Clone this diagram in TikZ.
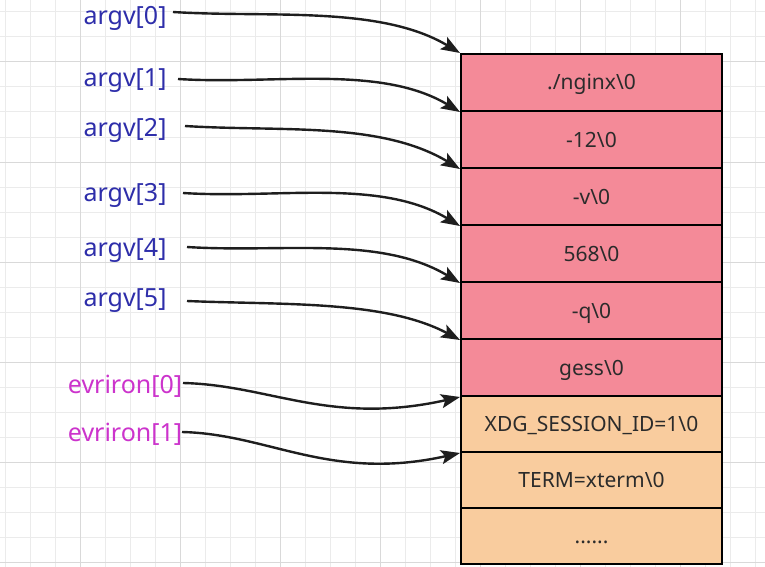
\documentclass[tikz,border=0pt]{standalone}
\usepackage{fontspec}
\setmainfont{Noto Sans}
\usetikzlibrary{arrows.meta}
\definecolor{lblblue}{HTML}{2E2EAA}
\definecolor{lblmag}{HTML}{CC33CC}
\definecolor{pinkfill}{HTML}{F48A98}
\definecolor{orangefill}{HTML}{F9CC9E}
\definecolor{gridminor}{HTML}{EBEBEB}
\definecolor{gridmajor}{HTML}{D9D9D9}
\definecolor{arrowcol}{HTML}{1E1E1E}
\definecolor{celltext}{HTML}{2B2B2B}
\begin{document}
\begin{tikzpicture}[x=1pt,y=-1pt,
  cell/.style={draw=black, line width=2pt, minimum width=261pt, minimum height=57pt,
    inner sep=0pt, font=\fontsize{21}{21}\selectfont, text=celltext,
    text height=15pt, text depth=0pt},
  argcell/.style={cell, fill=pinkfill},
  envcell/.style={cell, fill=orangefill, minimum height=56pt},
  arglbl/.style={font=\fontsize{25}{25}\selectfont, text=lblblue, anchor=base, inner sep=0pt},
  envlbl/.style={arglbl, text=lblmag},
  ptr/.style={draw=arrowcol, line width=2.4pt, -{Stealth[length=19pt,width=14pt,inset=4pt]}},
]
\useasboundingbox (0,0) rectangle (765,567);
\fill[white] (0,0) rectangle (765,567);
\foreach \x in {5,30,...,755} \draw[gridminor, line width=1pt] (\x,0) -- (\x,567);
\foreach \y in {12,37,...,562} \draw[gridminor, line width=1pt] (0,\y) -- (765,\y);
\foreach \x in {80,180,...,680} \draw[gridmajor, line width=1pt] (\x,0) -- (\x,567);
\foreach \y in {62,162,...,562} \draw[gridmajor, line width=1pt] (0,\y) -- (765,\y);

% memory cells
\node[argcell] (r0) at (591.5,82.5) {./nginx\textbackslash 0};
\node[argcell] (r1) at (591.5,139.5) {-12\textbackslash 0};
\node[argcell] (r2) at (591.5,196.5) {-v\textbackslash 0};
\node[argcell] (r3) at (591.5,253.5) {568\textbackslash 0};
\node[argcell] (r4) at (591.5,310.5) {-q\textbackslash 0};
\node[argcell] (r5) at (591.5,367.5) {gess\textbackslash 0};
\node[envcell] (e0) at (591.5,424) {XDG\_SESSION\_ID=1\textbackslash 0};
\node[envcell] (e1) at (591.5,480) {TERM=xterm\textbackslash 0};
\node[envcell] (e2) at (591.5,536) {......};

% labels
\node[arglbl] (a0) at (125,25) {argv[0]};
\node[arglbl] (a1) at (125,87) {argv[1]};
\node[arglbl] (a2) at (125,136) {argv[2]};
\node[arglbl] (a3) at (125,201) {argv[3]};
\node[arglbl] (a4) at (125,256) {argv[4]};
\node[arglbl] (a5) at (125,306) {argv[5]};
\node[envlbl] (v0) at (125,393) {evriron[0]};
\node[envlbl] (v1) at (125,441) {evriron[1]};

% pointers
\draw[ptr] ([shift={(48,-13)}]a0.base) .. controls +(95,6) and +(-80,-48) .. (r0.north west);
\draw[ptr] ([shift={(53,-8)}]a1.base) .. controls +(95,6) and +(-80,-48) .. (r0.south west);
\draw[ptr] ([shift={(60,-10)}]a2.base) .. controls +(95,6) and +(-80,-48) .. (r1.south west);
\draw[ptr] ([shift={(58,-8)}]a3.base) .. controls +(95,6) and +(-80,-48) .. (r2.south west);
\draw[ptr] ([shift={(62,-9)}]a4.base) .. controls +(95,6) and +(-80,-48) .. (r3.south west);
\draw[ptr] ([shift={(62,-5)}]a5.base) .. controls +(95,4) and +(-75,-40) .. (r4.south west);
\draw[ptr] ([shift={(58,-10)}]v0.base) .. controls +(87,2) and +(-130,29) .. (r5.south west);
\draw[ptr] ([shift={(57,-9)}]v1.base) .. controls +(87,2) and +(-130,29) .. (e0.south west);
\end{tikzpicture}
\end{document}
